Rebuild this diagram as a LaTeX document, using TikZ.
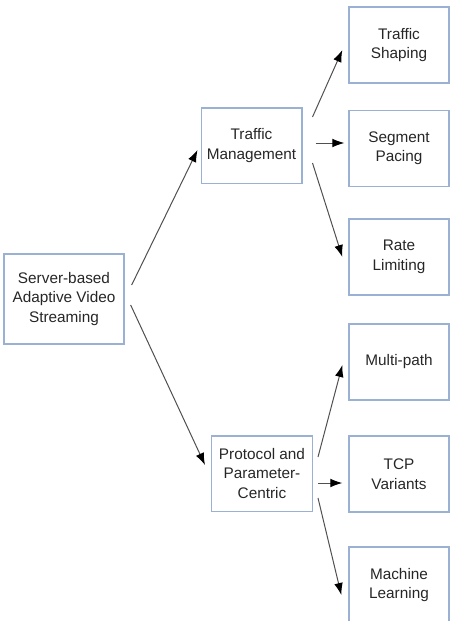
\documentclass[tikz,border=0pt]{standalone}
\usepackage{fontspec}
\setmainfont{Liberation Sans}
\usepackage{tikz}
\usetikzlibrary{arrows.meta,positioning,calc}
\definecolor{boxline}{RGB}{155,177,212}
\definecolor{arrline}{RGB}{80,80,80}
\tikzset{
  Bbox/.style={draw=boxline, line width=1pt, align=center, text=black!85,
               font=\fontsize{11.5}{14.6}\selectfont, inner sep=2pt},
  Rbox/.style={Bbox, minimum width=90pt, minimum height=67.5pt},
  Mbox/.style={Bbox, minimum width=75.5pt, minimum height=56.5pt},
  Lbox/.style={Bbox, minimum width=75pt, minimum height=57pt},
  Narr/.style={-{Latex[length=9pt,width=6.5pt,color=black]}, draw=arrline,
               line width=0.75pt}
}

\begin{document}
\begin{tikzpicture}[x=0.75pt,y=-0.75pt]
  \useasboundingbox (0,0) rectangle (457,621);

  \node[Rbox] (root) at (64,299)
    {Server-based\\Adaptive Video\\Streaming};

  \node[Mbox] (tm) at (251.5,145.5) {Traffic\\Management};
  \node[Mbox] (pc) at (262,473.5) {Protocol and\\Parameter-\\Centric};

  \node[Lbox] (ts) at (399,45) {Traffic\\Shaping};
  \node[Lbox] (sp) at (399,148.5) {Segment\\Pacing};
  \node[Lbox] (rl) at (399,257) {Rate\\Limiting};

  \node[Lbox] (mp) at (399,362) {Multi-path};
  \node[Lbox] (tcp) at (399,474) {TCP\\Variants};
  \node[Lbox] (ml) at (399,585) {Machine\\Learning};

  \draw[Narr] ([shift={(7,-14)}]root.east)--([shift={(-3,4.5)}]tm.west);
  \draw[Narr] ([shift={(6,6)}]root.east)--([shift={(-6,-8.5)}]pc.west);

  \draw[Narr] ([shift={(10,-28.5)}]tm.east)--([shift={(-6,5)}]ts.west);
  \draw[Narr] ([shift={(13,-2.5)}]tm.east)--([shift={(-4,-5.5)}]sp.west);
  \draw[Narr] ([shift={(10,17.5)}]tm.east)--([shift={(-6,0)}]rl.west);

  \draw[Narr] ([shift={(5,-16.5)}]pc.east)--([shift={(-6,3)}]mp.west);
  \draw[Narr] ([shift={(5,9.5)}]pc.east)--([shift={(-6,9)}]tcp.west);
  \draw[Narr] ([shift={(5,24.5)}]pc.east)--([shift={(-7,10)}]ml.west);
\end{tikzpicture}
\end{document}
